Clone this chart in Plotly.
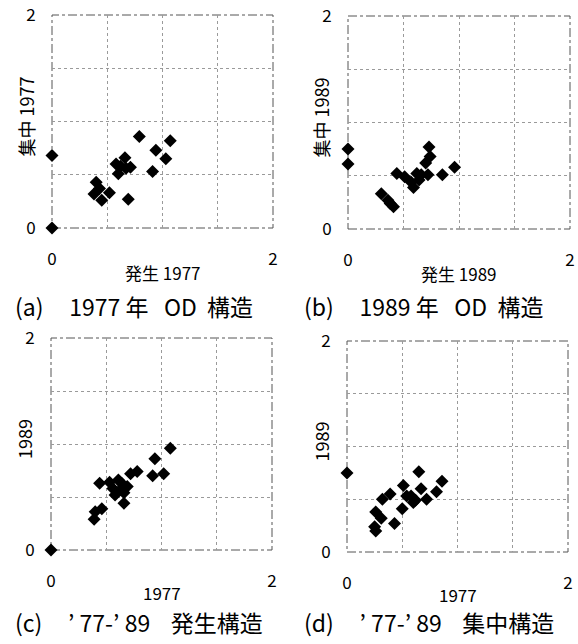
import plotly.graph_objects as go

# ---- data ----
a_x = [0.00, 0.00, 0.79, 1.07, 0.94, 1.03, 0.91, 0.66, 0.58, 0.62, 0.71, 0.60, 0.67, 0.40, 0.43, 0.38, 0.52, 0.45, 0.69]
a_y = [0.00, 0.68, 0.86, 0.82, 0.73, 0.65, 0.53, 0.66, 0.60, 0.58, 0.57, 0.51, 0.56, 0.43, 0.37, 0.32, 0.33, 0.26, 0.27]

b_x = [0.00, 0.00, 0.73, 0.74, 0.70, 0.44, 0.51, 0.62, 0.66, 0.72, 0.85, 0.96, 0.57, 0.59, 0.30, 0.36, 0.41, 0.38, 0.64]
b_y = [0.75, 0.61, 0.77, 0.68, 0.62, 0.52, 0.49, 0.52, 0.51, 0.51, 0.51, 0.58, 0.44, 0.39, 0.33, 0.27, 0.21, 0.24, 0.46]

c_x = [0.00, 1.08, 0.94, 1.02, 0.92, 0.78, 0.72, 0.44, 0.53, 0.61, 0.64, 0.69, 0.56, 0.63, 0.58, 0.66, 0.46, 0.40, 0.39, 0.66]
c_y = [0.00, 0.96, 0.86, 0.72, 0.70, 0.74, 0.72, 0.63, 0.64, 0.66, 0.63, 0.60, 0.58, 0.57, 0.52, 0.44, 0.39, 0.36, 0.29, 0.54]

d_x = [0.00, 0.65, 0.86, 0.51, 0.67, 0.81, 0.39, 0.32, 0.54, 0.58, 0.62, 0.72, 0.60, 0.50, 0.26, 0.31, 0.43, 0.25, 0.26]
d_y = [0.75, 0.76, 0.67, 0.63, 0.60, 0.57, 0.55, 0.50, 0.53, 0.53, 0.49, 0.50, 0.47, 0.41, 0.38, 0.32, 0.27, 0.24, 0.20]

tick_vals = [0, 0.5, 1, 1.5, 2]
tick_text = ["0", "", "", "", "2"]

NB = "\u00a0"
captions = [f"(a){NB*5}1977{NB}年{NB*3}OD{NB*2}構造",
            f"(b){NB*5}1989{NB}年{NB*3}OD{NB*2}構造",
            f"(c){NB*5}’{NB}77-’{NB}89{NB*4}発生構造",
            f"(d){NB*5}’{NB}77-’{NB}89{NB*4}集中構造"]
x_titles = [f"発生{NB}1977", f"発生{NB}1989", "1977", "1977"]
y_titles = [f"集中{NB}1977", f"集中{NB}1989", "1989", "1989"]

W, H = 578, 644
FONT = "Noto Sans CJK JP"

# panel plot areas in pixels (left, right, top, bottom)
boxes = [(52, 273, 15, 228), (348, 570, 16, 229), (51, 272, 338, 550), (347, 568, 341, 552)]
caption_pos = [(13, 306), (302, 306), (13, 622), (302, 622)]
xtitle_off = [44, 44, 42, 42]
series = [(a_x, a_y), (b_x, b_y), (c_x, c_y), (d_x, d_y)]

fig = go.Figure()
layout = dict(width=W, height=H, margin=dict(l=0, r=0, t=0, b=0, autoexpand=False),
              paper_bgcolor="white", plot_bgcolor="white", showlegend=False,
              font=dict(family=FONT, color="black"))
shapes = []
annotations = []

for i, ((l, r, t, b), (xs, ys)) in enumerate(zip(boxes, series)):
    n = "" if i == 0 else str(i + 1)
    xa, ya = "x" + n, "y" + n
    fig.add_trace(go.Scatter(x=xs, y=ys, mode="markers", xaxis=xa, yaxis=ya, cliponaxis=False,
                             marker=dict(symbol="diamond", size=10, color="black")))
    common = dict(range=[0, 2], tickvals=tick_vals, ticktext=tick_text, automargin=False,
                  showgrid=True, gridcolor="#9a9a9a", griddash="dot", gridwidth=1,
                  zeroline=False, showline=False, ticks="outside",
                  tickcolor="rgba(0,0,0,0)", tickfont=dict(size=17, family=FONT))
    layout["xaxis" + n] = dict(common, domain=[l / W, r / W], anchor=ya, ticklen=16)
    layout["yaxis" + n] = dict(common, domain=[1 - b / H, 1 - t / H], anchor=xa, ticklen=12)
    shapes.append(dict(type="rect", xref=xa + " domain", yref=ya + " domain",
                       x0=0, x1=1, y0=0, y1=1,
                       line=dict(color="#555555", width=1, dash="dashdot"), layer="below"))
    cx = (l + r) / 2
    annotations.append(dict(text=x_titles[i], x=cx / W, y=1 - (b + xtitle_off[i]) / H,
                            xref="paper", yref="paper", showarrow=False,
                            font=dict(size=17, family=FONT), xanchor="center", yanchor="middle"))
    annotations.append(dict(text=y_titles[i], x=(l - 27) / W, y=1 - ((t + b) / 2 - 5) / H,
                            xref="paper", yref="paper", showarrow=False, textangle=-90,
                            font=dict(size=18, family=FONT), xanchor="center", yanchor="middle"))
    px, py = caption_pos[i]
    annotations.append(dict(text=captions[i], x=px / W, y=1 - py / H,
                            xref="paper", yref="paper", showarrow=False,
                            font=dict(size=23, family=FONT), xanchor="left", yanchor="middle"))

layout["shapes"] = shapes
layout["annotations"] = annotations
fig.update_layout(**layout)
fig.write_html("out.html", config={"displayModeBar": False},
               post_script="document.body.style.margin='0px';")
